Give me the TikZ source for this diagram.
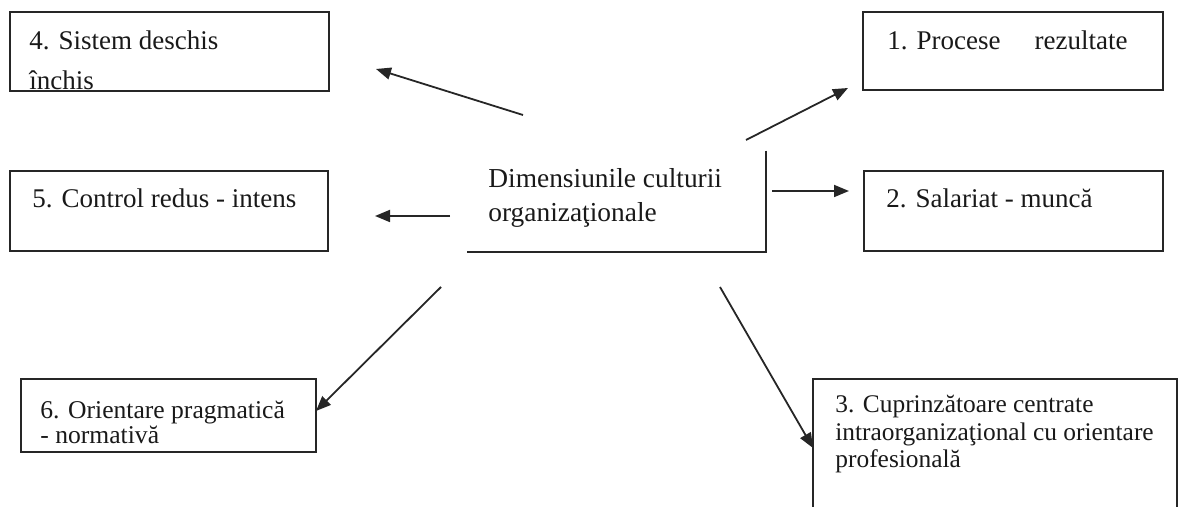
\documentclass[tikz,border=0pt]{standalone}
\usepackage{fontspec}
\setmainfont{Liberation Serif}
\usetikzlibrary{arrows.meta,fit}
\newcommand{\bigtxt}{\fontsize{13.5pt}{20pt}\selectfont}
\begin{document}
\begin{tikzpicture}[x=0.5pt,y=-0.5pt,
  box/.style={draw=black!85, line width=1pt, inner sep=0pt},
  txt/.style={anchor=base west, inner sep=0pt, text=black!90},
  arr/.style={draw=black!85, line width=0.9pt, -{Triangle[length=7.5pt,width=6pt]}}]
\useasboundingbox (0,0) rectangle (1179,507);
\clip (0,0) rectangle (1179,507);
% boxes
\node[box, fit={(10,12) (329,91)}] (b4) {};
\node[box, fit={(863,12) (1163,90)}] (b1) {};
\node[box, fit={(10,171) (328,251)}] (b5) {};
\node[box, fit={(864,171) (1163,251)}] (b2) {};
\node[box, fit={(21,379) (316,452)}] (b6) {};
\node[box, fit={(813,379) (1177,540)}] (b3) {};
\node[inner sep=0pt, fit={(467,151) (766,252)}] (bc) {};
\draw[black!85, line width=1pt] (bc.north east) -- (bc.south east) -- (bc.south west);
% texts
\node[txt] (t4) at (29,50) {\bigtxt\begin{tabular}[t]{@{}l@{}}4. Sistem deschis\\ închis\end{tabular}};
\node[txt] (t1) at (887,50) {\bigtxt 1. Procese\hspace{17pt}rezultate};
\node[txt] (t5) at (32,208) {\bigtxt 5. Control redus - intens};
\node[txt] (t2) at (886,208) {\bigtxt 2. Salariat - muncă};
\node[txt] (tc) at (488,188) {\fontsize{13.7pt}{17pt}\selectfont\begin{tabular}[t]{@{}l@{}}Dimensiunile culturii\\ organizaţionale\end{tabular}};
\node[txt] (t6) at (40,419) {\fontsize{12.8pt}{12.5pt}\selectfont\begin{tabular}[t]{@{}l@{}}6. Orientare pragmatică\\ - normativă\end{tabular}};
\node[txt] (t3) at (835,413) {\fontsize{12.7pt}{13.75pt}\selectfont\begin{tabular}[t]{@{}l@{}}3. Cuprinzătoare centrate\\ intraorganizaţional cu orientare\\ profesională\end{tabular}};
% arrow end points
\coordinate (a4s) at (523,115); \coordinate (a4e) at (376,69);
\coordinate (a1s) at (746,140); \coordinate (a1e) at (848,88);
\coordinate (a2s) at (772,191); \coordinate (a2e) at (849,191);
\coordinate (a5s) at (450,216); \coordinate (a5e) at (375,216);
\coordinate (a6s) at (441,287); \coordinate (a6e) at (316,411);
\coordinate (a3s) at (720,287); \coordinate (a3e) at (813,448);
\draw[arr] (a4s) -- (a4e);
\draw[arr] (a1s) -- (a1e);
\draw[arr] (a2s) -- (a2e);
\draw[arr] (a5s) -- (a5e);
\draw[arr] (a6s) -- (a6e);
\draw[arr] (a3s) -- (a3e);
\end{tikzpicture}
\end{document}
